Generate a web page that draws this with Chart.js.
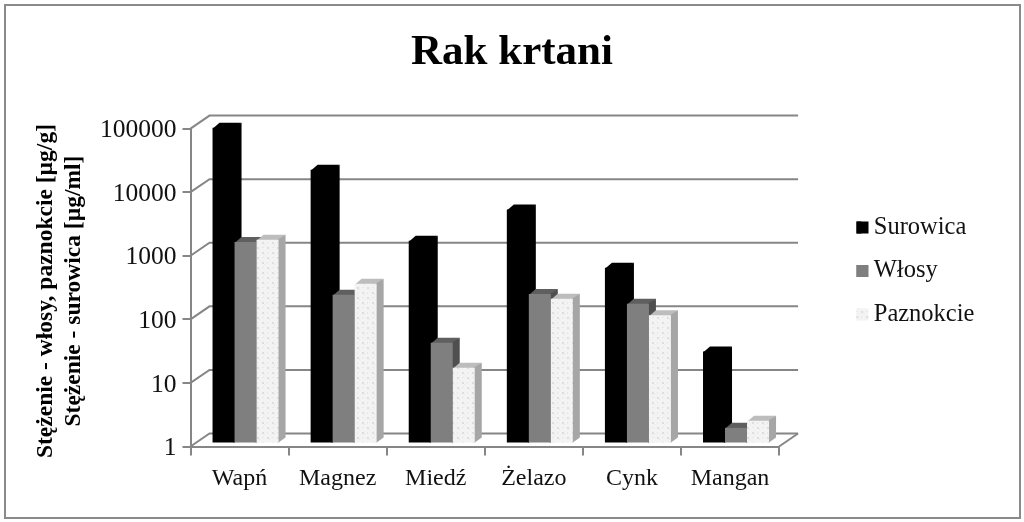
<!DOCTYPE html>
<html lang="pl">
<head>
<meta charset="utf-8">
<title>Rak krtani</title>
<style>
html,body{margin:0;padding:0;background:#fff;width:1024px;height:522px;overflow:hidden}
canvas{display:block}
</style>
<script src="https://cdn.jsdelivr.net/npm/chart.js@4"></script>
</head>
<body>
<canvas id="c" width="1024" height="522"></canvas>
<script>
const categories = ["Wapń", "Magnez", "Miedź", "Żelazo", "Cynk", "Mangan"];
const surowica = [89000, 19500, 1490, 4600, 560, 27];
const wlosy = [1420, 210, 37, 216, 152, 1.7];
const paznokcie = [1550, 315, 15, 182, 100, 2.2];
const tickValues = [1, 10, 100, 1000, 10000, 100000];
const titleText = "Rak krtani";
const axisTitle = ["Stężenie - włosy, paznokcie [µg/g]", "Stężenie - surowica [µg/ml]"];

const SERIF = '"Liberation Serif","Times New Roman",serif';
const GRID = "#868686";
const BAR_SHIFT = {x: 6, y: -4};
const BAR_DEPTH = {x: 7, y: -5};
const WALL = {x: 19, y: -13};

function mottled() {
  const t = document.createElement("canvas");
  t.width = 10; t.height = 10;
  const g = t.getContext("2d");
  g.fillStyle = "#f3f3f3"; g.fillRect(0, 0, 10, 10);
  g.fillStyle = "#dedede";
  g.fillRect(1, 1, 2, 2); g.fillRect(6, 6, 2, 2);
  g.fillStyle = "#e8e8e8";
  g.fillRect(6, 1, 2, 1); g.fillRect(1, 6, 1, 2); g.fillRect(3, 3, 1, 1); g.fillRect(8, 8, 1, 1);
  return g.createPattern(t, "repeat");
}
const palePattern = mottled();

const faces = [
  {top: "#000000", side: "#000000"},
  {top: "#5f5f5f", side: "#4f4f4f"},
  {top: "#bdbdbd", side: "#a6a6a6"}
];

function nudge(scale, method, dx, dy) {
  const original = scale[method];
  scale[method] = function () {
    const c = this.ctx;
    c.save();
    c.translate(dx, dy);
    original.apply(this, arguments);
    c.restore();
  };
}

const depthPlugin = {
  id: "depth",
  afterLayout(chart) {
    const lg = chart.legend, pad = lg.options.labels.padding;
    const dy = 10, left = 856.5 - pad, w = lg.right - lg.left;
    lg.left = left; lg.right = left + w;
    lg.top += dy; lg.bottom += dy;
    chart.titleBlock.left = 0;
    chart.titleBlock.right = chart.width;
  },
  beforeDraw(chart) {
    const c = chart.ctx, x = chart.scales.x, y = chart.scales.y;
    if (!y.$nudged) {
      y.$nudged = true;
      nudge(y, "drawLabels", 0, 2);
      nudge(y, "drawTitle", 1, 3.5);
    }
    c.save();
    c.strokeStyle = "#8a8a8a"; c.lineWidth = 2;
    c.strokeRect(5, 5, 1015, 513);
    c.strokeStyle = GRID; c.lineWidth = 2;
    tickValues.forEach(v => {
      const py = y.getPixelForValue(v);
      c.beginPath();
      c.moveTo(x.left, py);
      c.lineTo(x.left + WALL.x, py + WALL.y);
      c.lineTo(x.right + WALL.x, py + WALL.y);
      c.stroke();
    });
    const by = y.getPixelForValue(tickValues[0]);
    c.beginPath();
    c.moveTo(x.right, by);
    c.lineTo(x.right + WALL.x, by + WALL.y);
    c.stroke();
    c.restore();
  },
  beforeDatasetDraw() { return false; },
  afterDatasetsDraw(chart) {
    const c = chart.ctx;
    c.save();
    c.translate(BAR_SHIFT.x, BAR_SHIFT.y);
    chart.data.datasets.forEach((ds, i) => {
      const f = faces[i];
      chart.getDatasetMeta(i).data.forEach(b => {
        const l = b.x - b.width / 2, r = b.x + b.width / 2, t = b.y, bot = b.base;
        c.fillStyle = f.top;
        c.beginPath();
        c.moveTo(l, t + 1);
        c.lineTo(l + BAR_DEPTH.x, t + BAR_DEPTH.y);
        c.lineTo(r + BAR_DEPTH.x, t + BAR_DEPTH.y);
        c.lineTo(r, t + 1);
        c.closePath(); c.fill();
        c.fillStyle = f.side;
        c.beginPath();
        c.moveTo(r - 1, t);
        c.lineTo(r + BAR_DEPTH.x, t + BAR_DEPTH.y);
        c.lineTo(r + BAR_DEPTH.x, bot + BAR_DEPTH.y);
        c.lineTo(r, bot);
        c.lineTo(r - 1, bot);
        c.closePath(); c.fill();
        b.draw(c);
      });
    });
    c.restore();
  },
  afterDraw(chart) {
    const c = chart.ctx, lg = chart.legend;
    lg.legendHitBoxes.forEach((h, i) => {
      c.fillStyle = chart.data.datasets[i].backgroundColor;
      c.fillRect(h.left, h.top + h.height / 2 - 6, 12, 12);
    });
  }
};

new Chart(document.getElementById("c"), {
  type: "bar",
  data: {
    labels: categories,
    datasets: [
      {label: "Surowica", data: surowica, backgroundColor: "#000000"},
      {label: "Włosy", data: wlosy, backgroundColor: "#7f7f7f"},
      {label: "Paznokcie", data: paznokcie, backgroundColor: palePattern}
    ]
  },
  options: {
    responsive: false,
    animation: false,
    devicePixelRatio: 1,
    layout: {padding: {left: 0, right: 98, top: 0, bottom: 0}},
    datasets: {bar: {categoryPercentage: 0.673, barPercentage: 1, borderWidth: 0}},
    scales: {
      x: {
        grid: {display: true, drawOnChartArea: false, color: GRID, lineWidth: 2, tickLength: 9},
        border: {display: true, color: GRID, width: 2},
        ticks: {color: "#111", font: {family: SERIF, size: 24}, padding: 9, maxRotation: 0, autoSkip: false},
        afterFit(s) { s.height = 75.5; }
      },
      y: {
        type: "logarithmic",
        min: 1,
        max: 100000,
        afterBuildTicks(s) { s.ticks = tickValues.map(v => ({value: v})); },
        grid: {display: true, drawOnChartArea: false, color: GRID, lineWidth: 2, tickLength: 8},
        border: {display: true, color: GRID, width: 2},
        ticks: {color: "#111", font: {family: SERIF, size: 25.5}, padding: 6, autoSkip: false,
                callback: v => String(v)},
        title: {display: true, text: axisTitle, color: "#000",
                font: {family: SERIF, size: 23.5, weight: "bold", lineHeight: 1.19},
                padding: {top: 31, bottom: 0}},
        afterFit(s) { s.width = 190.5; }
      }
    },
    plugins: {
      title: {display: true, text: titleText, color: "#000",
              font: {family: SERIF, size: 43, weight: "bold"},
              padding: {top: 27, bottom: 50}},
      legend: {
        display: true, position: "right", align: "center",
        labels: {color: "#111", font: {family: SERIF, size: 24.5}, boxWidth: 5, boxHeight: 12, padding: 19}
      },
      tooltip: {enabled: false}
    }
  },
  plugins: [depthPlugin]
});
</script>
</body>
</html>
